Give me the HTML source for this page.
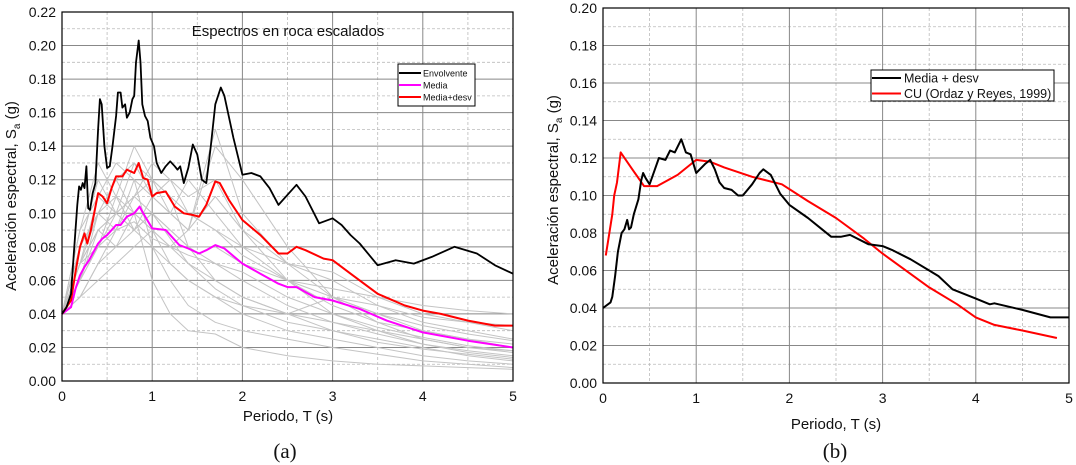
<!DOCTYPE html>
<html><head><meta charset="utf-8">
<style>
body{margin:0;background:#fff;width:1076px;height:465px;overflow:hidden}
svg{display:block;font-family:"Liberation Sans",sans-serif}
</style></head>
<body>
<svg id="c" width="1076" height="465"></svg>
<script>
// ---- data ----
const envT=[0,0.05,0.1,0.13,0.15,0.17,0.19,0.21,0.23,0.25,0.27,0.29,0.31,0.34,0.37,0.40,0.42,0.44,0.47,0.50,0.53,0.56,0.6,0.62,0.65,0.67,0.70,0.72,0.75,0.78,0.80,0.82,0.85,0.87,0.89,0.92,0.95,0.98,1.02,1.05,1.1,1.15,1.2,1.25,1.28,1.31,1.35,1.4,1.45,1.5,1.55,1.6,1.65,1.7,1.76,1.8,1.9,2.0,2.1,2.2,2.3,2.4,2.5,2.6,2.7,2.85,3.0,3.1,3.2,3.3,3.5,3.7,3.9,4.1,4.35,4.6,4.8,5.0];
const envS=[0.040,0.044,0.052,0.075,0.09,0.105,0.116,0.114,0.118,0.115,0.128,0.103,0.102,0.112,0.118,0.150,0.168,0.165,0.140,0.127,0.128,0.14,0.158,0.172,0.172,0.163,0.165,0.157,0.16,0.168,0.17,0.19,0.203,0.19,0.165,0.158,0.155,0.145,0.14,0.13,0.124,0.128,0.131,0.128,0.126,0.128,0.118,0.127,0.141,0.135,0.12,0.118,0.14,0.165,0.175,0.17,0.145,0.123,0.124,0.122,0.115,0.105,0.111,0.117,0.11,0.094,0.097,0.093,0.087,0.082,0.069,0.072,0.070,0.074,0.080,0.076,0.069,0.064];
const mdT=[0,0.1,0.15,0.2,0.25,0.28,0.32,0.4,0.45,0.5,0.55,0.6,0.67,0.72,0.8,0.85,0.9,0.95,1.0,1.05,1.15,1.25,1.35,1.45,1.52,1.6,1.7,1.75,1.85,2.0,2.2,2.4,2.5,2.6,2.7,2.9,3.0,3.2,3.5,3.8,4.0,4.2,4.5,4.8,5.0];
const mdS=[0.040,0.048,0.065,0.080,0.088,0.082,0.09,0.112,0.110,0.106,0.115,0.122,0.122,0.126,0.124,0.130,0.121,0.120,0.110,0.112,0.113,0.104,0.100,0.099,0.098,0.105,0.119,0.118,0.108,0.096,0.087,0.076,0.076,0.080,0.078,0.073,0.072,0.064,0.052,0.045,0.042,0.040,0.036,0.033,0.033];
const meT=[0,0.1,0.15,0.2,0.25,0.3,0.4,0.45,0.5,0.6,0.65,0.72,0.8,0.86,0.9,1.0,1.15,1.3,1.4,1.52,1.6,1.7,1.8,2.0,2.2,2.4,2.5,2.6,2.8,3.0,3.3,3.6,4.0,4.5,5.0];
const meS=[0.040,0.044,0.055,0.063,0.068,0.072,0.082,0.085,0.087,0.093,0.093,0.098,0.100,0.104,0.100,0.091,0.090,0.081,0.079,0.076,0.078,0.081,0.079,0.070,0.064,0.058,0.056,0.056,0.050,0.048,0.043,0.036,0.029,0.024,0.020];
const grT=[0,0.2,0.4,0.6,0.8,1,1.2,1.4,1.7,2,2.5,3,3.5,4,4.5,5];
const grS=[
[0.040,0.07,0.09,0.10,0.11,0.10,0.09,0.08,0.07,0.06,0.045,0.035,0.028,0.022,0.017,0.014],
[0.040,0.06,0.08,0.09,0.12,0.11,0.10,0.09,0.11,0.09,0.06,0.045,0.035,0.03,0.025,0.02],
[0.040,0.08,0.10,0.12,0.10,0.09,0.07,0.06,0.05,0.04,0.03,0.025,0.02,0.015,0.012,0.010],
[0.040,0.05,0.07,0.08,0.09,0.10,0.09,0.08,0.08,0.07,0.06,0.055,0.05,0.045,0.042,0.04],
[0.040,0.09,0.13,0.11,0.14,0.12,0.10,0.09,0.15,0.10,0.07,0.06,0.045,0.035,0.03,0.025],
[0.040,0.07,0.11,0.13,0.12,0.08,0.06,0.045,0.035,0.03,0.025,0.02,0.016,0.012,0.01,0.008],
[0.040,0.06,0.09,0.10,0.13,0.11,0.12,0.10,0.09,0.08,0.07,0.065,0.05,0.04,0.035,0.03],
[0.040,0.05,0.06,0.07,0.08,0.09,0.08,0.07,0.06,0.05,0.04,0.03,0.025,0.02,0.015,0.012],
[0.040,0.08,0.12,0.10,0.09,0.11,0.10,0.12,0.10,0.08,0.06,0.04,0.03,0.022,0.018,0.015],
[0.040,0.07,0.08,0.11,0.10,0.06,0.04,0.03,0.028,0.02,0.015,0.012,0.01,0.009,0.008,0.007],
[0.040,0.06,0.10,0.09,0.11,0.12,0.11,0.08,0.06,0.05,0.04,0.05,0.045,0.038,0.035,0.033],
[0.040,0.05,0.07,0.09,0.095,0.085,0.08,0.09,0.14,0.12,0.08,0.05,0.035,0.025,0.02,0.017],
[0.040,0.07,0.09,0.08,0.10,0.09,0.08,0.075,0.07,0.065,0.05,0.04,0.032,0.026,0.021,0.018],
[0.040,0.09,0.11,0.10,0.09,0.10,0.085,0.07,0.055,0.045,0.035,0.03,0.023,0.019,0.016,0.013],
[0.040,0.08,0.12,0.12,0.13,0.12,0.11,0.10,0.09,0.075,0.06,0.05,0.04,0.03,0.025,0.022],
[0.040,0.06,0.08,0.10,0.11,0.13,0.12,0.11,0.12,0.09,0.07,0.05,0.04,0.033,0.028,0.024],
[0.040,0.07,0.10,0.11,0.09,0.08,0.07,0.06,0.05,0.045,0.04,0.035,0.03,0.025,0.02,0.018]
];
const bT=[0,0.08,0.1,0.13,0.16,0.2,0.23,0.26,0.28,0.3,0.33,0.38,0.41,0.43,0.46,0.5,0.55,0.6,0.67,0.72,0.77,0.84,0.89,0.94,1.0,1.1,1.15,1.2,1.25,1.3,1.38,1.45,1.5,1.6,1.68,1.72,1.8,1.9,2.0,2.2,2.35,2.45,2.55,2.65,2.85,3.0,3.1,3.3,3.5,3.6,3.75,4.0,4.15,4.2,4.5,4.8,5.0];
const bS=[0.040,0.043,0.046,0.057,0.070,0.080,0.082,0.087,0.082,0.083,0.090,0.098,0.108,0.112,0.109,0.106,0.113,0.120,0.119,0.124,0.123,0.130,0.123,0.122,0.112,0.117,0.119,0.114,0.107,0.104,0.103,0.100,0.100,0.106,0.112,0.114,0.111,0.101,0.095,0.088,0.082,0.078,0.078,0.079,0.074,0.073,0.071,0.066,0.060,0.057,0.050,0.045,0.042,0.0425,0.039,0.035,0.035];
const cuT=[0.03,0.1,0.12,0.15,0.19,0.3,0.44,0.58,0.8,1.0,1.15,1.3,1.6,1.92,2.2,2.5,2.8,3.0,3.5,3.8,4.0,4.2,4.5,4.87];
const cuS=[0.068,0.090,0.100,0.107,0.123,0.115,0.105,0.105,0.111,0.119,0.118,0.115,0.110,0.106,0.097,0.088,0.077,0.069,0.051,0.042,0.035,0.031,0.028,0.024];
const yTicksA=["0.00","0.02","0.04","0.06","0.08","0.10","0.12","0.14","0.16","0.18","0.20","0.22"];
const yTicksB=["0.00","0.02","0.04","0.06","0.08","0.10","0.12","0.14","0.16","0.18","0.20"];
const xTicks=["0","1","2","3","4","5"];

const NS="http://www.w3.org/2000/svg";
const svg=document.getElementById('c');
function mk(tag,attrs,parent){const e=document.createElementNS(NS,tag);for(const k in attrs)e.setAttribute(k,attrs[k]);(parent||svg).appendChild(e);return e;}

function panel(P){
  const g=mk('g',{});
  
  
  const sx=t=>P.x0+(P.x1-P.x0)*t/5;
  const sy=v=>P.y0+(P.y1-P.y0)*v/P.ymax;
  P.sx=sx;P.sy=sy;
  for(let t=0.5;t<5;t+=1){const l=mk('line',{x1:sx(t),x2:sx(t),y1:P.y1,y2:P.y0,stroke:'#bbb','stroke-dasharray':'3,2','stroke-width':0.8},g);}
  for(let v=0.01;v<P.ymax;v+=0.02){const l=mk('line',{x1:P.x0,x2:P.x1,y1:sy(v),y2:sy(v),stroke:'#bbb','stroke-dasharray':'3,2','stroke-width':0.8},g);}
  for(let i=1;i<5;i++){const l=mk('line',{x1:sx(i),x2:sx(i),y1:P.y1,y2:P.y0,stroke:'#888','stroke-width':1},g);}
  P.yt.forEach((s,i)=>{const v=i*0.02;
    if(i>0&&i<P.yt.length-1){const l=mk('line',{x1:P.x0,x2:P.x1,y1:sy(v),y2:sy(v),stroke:'#888','stroke-width':1},g);}
    const t=mk('text',{x:P.x0-6,y:sy(v)+5,'text-anchor':'end','font-size':14,fill:'#111'},g);t.textContent=s;
    
  });
  xTicks.forEach((s,i)=>{const t=mk('text',{x:sx(i),y:P.y0+20,'text-anchor':'middle','font-size':14,fill:'#111'},g);t.textContent=s;
    });
  return g;
}
function line(g,P,T,S,col,w,name){
  const d=T.map((t,i)=>(i?'L':'M')+P.sx(t).toFixed(1)+','+P.sy(S[i]).toFixed(1)).join('');
  const p=mk('path',{d:d,fill:'none',stroke:col,'stroke-width':w,'stroke-linejoin':'round'},g);
  
}
function frame(g,P){const r=mk('rect',{x:P.x0,y:P.y1,width:P.x1-P.x0,height:P.y0-P.y1,fill:'none',stroke:'#000','stroke-width':1.2},g);}
function txt(g,x,y,s,attrs,name){const t=mk('text',Object.assign({x:x,y:y},attrs),g);t.textContent=s;return t;}

// Panel A
const A={name:'panel-a',x0:62,x1:513,y0:381,y1:12,ymax:0.22,yt:yTicksA};
const ga=panel(A);
grS.forEach(s=>line(ga,A,grT,s,'#c4c4c4',1,'record-spectrum'));
line(ga,A,meT,meS,'#ff00ff',2,'media-line');
line(ga,A,mdT,mdS,'#ff0000',2,'media-desv-line');
line(ga,A,envT,envS,'#000',1.8,'envolvente-line');
frame(ga,A);
txt(ga,288,36,'Espectros en roca escalados',{'text-anchor':'middle','font-size':15,fill:'#111'},'panel-title');
const la=mk('g',{},ga);
mk('rect',{x:398,y:64,width:77,height:42,fill:'#fff',stroke:'#000','stroke-width':1},la);
[['Envolvente','#000'],['Media','#ff00ff'],['Media+desv','#ff0000']].forEach((e,i)=>{
  const y=73+i*12;mk('line',{x1:399,x2:421,y1:y,y2:y,stroke:e[1],'stroke-width':2},la);
  txt(la,423,y+3.5,e[0],{'font-size':9,fill:'#111'},'legend-entry');});
txt(ga,288,421,'Periodo, T (s)',{'text-anchor':'middle','font-size':15,fill:'#111'},'x-axis-title');
const ya=txt(ga,0,0,'',{'font-size':15,fill:'#111','text-anchor':'middle',transform:'translate(16,196) rotate(-90)'},'y-axis-title');
ya.innerHTML='Aceleración espectral, S<tspan font-size="10" dy="4">a</tspan><tspan dy="-4"> (g)</tspan>';
txt(ga,285,458,'(a)',{'text-anchor':'middle','font-size':21,'font-family':'Liberation Serif, serif',fill:'#111'},'panel-label');

// Panel B
const B={name:'panel-b',x0:603,x1:1069,y0:383,y1:8,ymax:0.20,yt:yTicksB};
const gb=panel(B);
line(gb,B,cuT,cuS,'#ff0000',2,'cu-line');
line(gb,B,bT,bS,'#000',2,'media-desv-line');
frame(gb,B);
const lb=mk('g',{},gb);
mk('rect',{x:871,y:70,width:183,height:31,fill:'#fff',stroke:'#000','stroke-width':1},lb);
[['Media + desv','#000'],['CU (Ordaz y Reyes, 1999)','#ff0000']].forEach((e,i)=>{
  const y=78+i*15.5;mk('line',{x1:872,x2:901,y1:y,y2:y,stroke:e[1],'stroke-width':2},lb);
  txt(lb,904,y+4.5,e[0],{'font-size':12.5,fill:'#111'},'legend-entry');});
txt(gb,836,429,'Periodo, T (s)',{'text-anchor':'middle','font-size':15,fill:'#111'},'x-axis-title');
const yb=txt(gb,0,0,'',{'font-size':15,fill:'#111','text-anchor':'middle',transform:'translate(558,190) rotate(-90)'},'y-axis-title');
yb.innerHTML='Aceleración espectral, S<tspan font-size="10" dy="4">a</tspan><tspan dy="-4"> (g)</tspan>';
txt(gb,835,458,'(b)',{'text-anchor':'middle','font-size':21,'font-family':'Liberation Serif, serif',fill:'#111'},'panel-label');
</script>
</body></html>
